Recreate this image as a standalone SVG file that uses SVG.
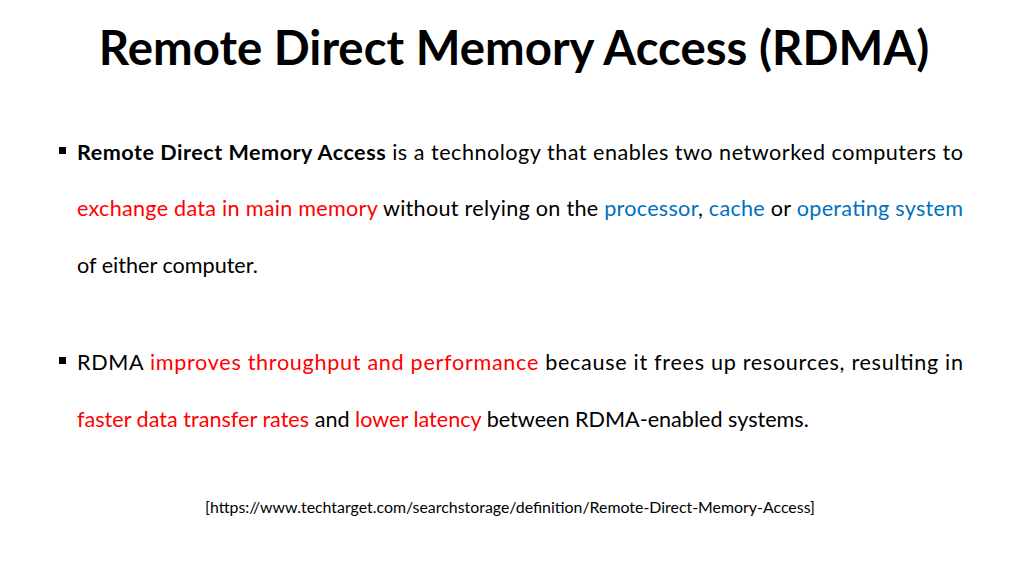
<svg xmlns="http://www.w3.org/2000/svg" width="1024" height="576" viewBox="0 0 1024 576">
<style>
text{font-family:Lato,"Open Sans","Liberation Sans",sans-serif;fill:#000}
.b{font-size:21.6px}
.r{fill:#FF0000}
.u{fill:#0070C0}
</style>
<rect width="1024" height="576" fill="#fff"/>
<g id="title"><text x="514" y="65" text-anchor="middle" font-size="47.4" font-weight="bold">Remote Direct Memory Access (RDMA)</text></g>
<g id="bullet1">
<rect x="59" y="147" width="7" height="7"/>
<text class="b" x="77" y="160" textLength="886" lengthAdjust="spacing"><tspan font-weight="bold">Remote Direct Memory Access</tspan> is a technology that enables two networked computers to</text>
<text class="b" x="77" y="216" textLength="886" lengthAdjust="spacing"><tspan class="r">exchange data in main memory</tspan> without relying on the <tspan class="u">processor</tspan>, <tspan class="u">cache</tspan> or <tspan class="u">operating system</tspan></text>
<text class="b" x="77" y="273">of either computer.</text>
</g>
<g id="bullet2">
<rect x="59" y="357" width="7" height="7"/>
<text class="b" x="77" y="370" textLength="886" lengthAdjust="spacing">RDMA <tspan class="r">improves throughput and performance</tspan> because it frees up resources, resulting in</text>
<text class="b" x="77" y="427"><tspan class="r">faster data transfer rates</tspan> and <tspan class="r">lower latency</tspan> between RDMA-enabled systems.</text>
</g>
<g id="ref"><text x="510" y="513" text-anchor="middle" font-size="15.9">[https://www.techtarget.com/searchstorage/definition/Remote-Direct-Memory-Access]</text></g>
</svg>
